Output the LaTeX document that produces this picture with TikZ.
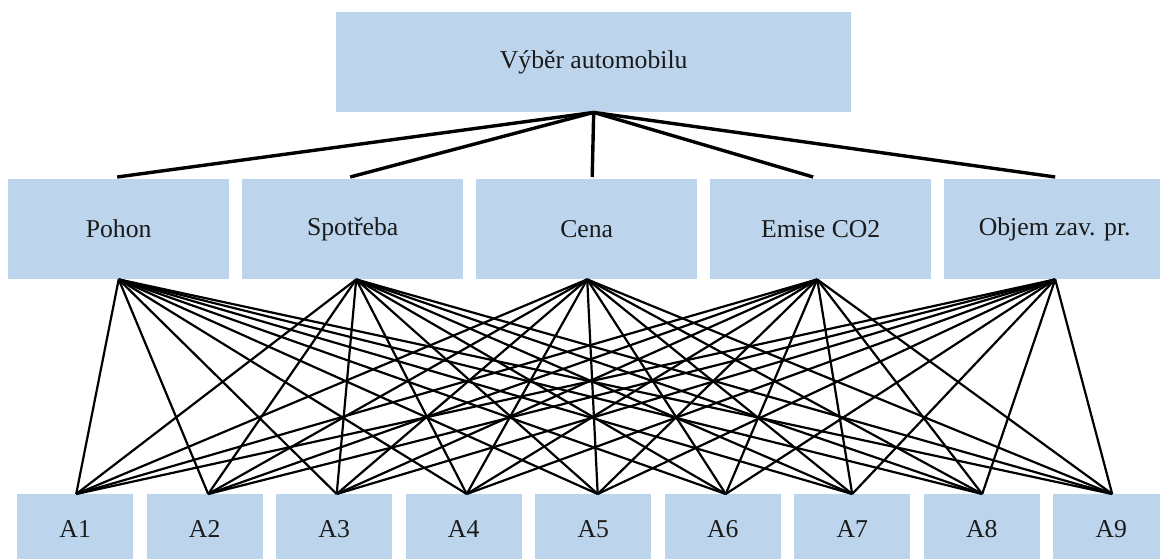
\documentclass[tikz,border=0pt]{standalone}
\usepackage{fontspec}
\setmainfont{Liberation Serif}
\definecolor{boxblue}{HTML}{BDD5EC}
\definecolor{ink}{HTML}{1A1A1A}
\begin{document}
\begin{tikzpicture}[x=1pt,y=-1pt,
  box/.style={rectangle,fill=boxblue,draw=none,inner sep=0pt,anchor=north west,
    text=ink,font=\fontsize{25.7}{30}\selectfont},
  goal/.style={box,minimum width=515pt,minimum height=100pt},
  crit/.style={box,minimum width=221pt,minimum height=100pt},
  alt/.style={box,minimum width=116pt,minimum height=70pt},
  upper/.style={line width=3.4pt,black},
  lower/.style={line width=2.2pt,black}]
\useasboundingbox (0,0) rectangle (1160,558);

% goal
\node[goal] (goal) at (336,12) {Výběr automobilu};

% criteria
\foreach \n/\t [count=\i from 0] in {pohon/Pohon, spotreba/Spotřeba, cena/Cena,
    emise/Emise CO2, objem/Objem zav. pr.}
  \node[crit] (\n) at ({8+234*\i},179) {\t};

% alternatives
\foreach \i in {1,...,9}
  \node[alt] (a\i) at ({17+129.5*(\i-1)},494) {A\i};

% goal -> criteria
\foreach \n/\dx in {pohon/-1.5, spotreba/-2.5, cena/5.5, emise/-7.5, objem/0.5}
  \draw[upper] (goal.south) -- ([xshift=\dx pt,yshift=2pt]\n.north);

% criteria -> alternatives
\foreach \c/\cx in {pohon/0, spotreba/3.5, cena/0.5, emise/-3.5, objem/0.5}
  \foreach \a/\ax in {a1/1, a2/3.5, a3/2.5, a4/3, a5/4.5, a6/3, a7/0, a8/0.5, a9/1}
    \draw[lower] ([xshift=\cx pt]\c.south) -- ([xshift=\ax pt]\a.north);
\end{tikzpicture}
\end{document}
